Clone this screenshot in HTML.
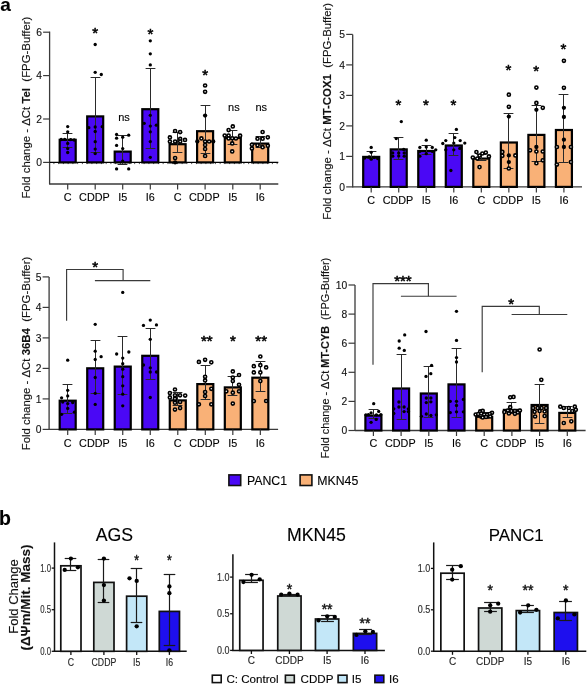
<!DOCTYPE html>
<html><head><meta charset="utf-8"><style>
html,body{margin:0;padding:0;background:#fff;width:587px;height:685px;overflow:hidden}
svg{display:block;font-family:"Liberation Sans", sans-serif;will-change:transform}
text{paint-order:stroke;stroke:#000;stroke-width:0.22px;stroke-opacity:0.55}
</style></head><body>
<svg width="587" height="685" viewBox="0 0 587 685">
<rect width="587" height="685" fill="#fff"/>
<line x1="49.60" y1="31.60" x2="49.60" y2="184.60" stroke="#3a3a3a" stroke-width="1.3"/>
<line x1="43.10" y1="32.20" x2="49.60" y2="32.20" stroke="#3a3a3a" stroke-width="1.2"/>
<text x="41.90" y="35.90" font-size="10.3" text-anchor="end" font-weight="normal" fill="#111" >6</text>
<line x1="43.10" y1="75.60" x2="49.60" y2="75.60" stroke="#3a3a3a" stroke-width="1.2"/>
<text x="41.90" y="79.30" font-size="10.3" text-anchor="end" font-weight="normal" fill="#111" >4</text>
<line x1="43.10" y1="119.00" x2="49.60" y2="119.00" stroke="#3a3a3a" stroke-width="1.2"/>
<text x="41.90" y="122.70" font-size="10.3" text-anchor="end" font-weight="normal" fill="#111" >2</text>
<line x1="43.10" y1="162.40" x2="49.60" y2="162.40" stroke="#3a3a3a" stroke-width="1.2"/>
<text x="41.90" y="166.10" font-size="10.3" text-anchor="end" font-weight="normal" fill="#111" >0</text>
<line x1="49.60" y1="184.00" x2="278.30" y2="184.00" stroke="#3a3a3a" stroke-width="1.3"/>
<line x1="49.60" y1="162.40" x2="278.30" y2="162.40" stroke="#000" stroke-width="1.3"/>
<line x1="53.90" y1="162.80" x2="53.90" y2="164.10" stroke="#222" stroke-width="0.8"/>
<line x1="58.65" y1="162.80" x2="58.65" y2="164.10" stroke="#222" stroke-width="0.8"/>
<line x1="63.40" y1="162.80" x2="63.40" y2="164.10" stroke="#222" stroke-width="0.8"/>
<line x1="68.15" y1="162.80" x2="68.15" y2="164.10" stroke="#222" stroke-width="0.8"/>
<line x1="72.90" y1="162.80" x2="72.90" y2="164.10" stroke="#222" stroke-width="0.8"/>
<line x1="77.65" y1="162.80" x2="77.65" y2="164.10" stroke="#222" stroke-width="0.8"/>
<line x1="82.40" y1="162.80" x2="82.40" y2="164.10" stroke="#222" stroke-width="0.8"/>
<line x1="87.15" y1="162.80" x2="87.15" y2="164.10" stroke="#222" stroke-width="0.8"/>
<line x1="91.90" y1="162.80" x2="91.90" y2="164.10" stroke="#222" stroke-width="0.8"/>
<line x1="96.65" y1="162.80" x2="96.65" y2="164.10" stroke="#222" stroke-width="0.8"/>
<line x1="101.40" y1="162.80" x2="101.40" y2="164.10" stroke="#222" stroke-width="0.8"/>
<line x1="106.15" y1="162.80" x2="106.15" y2="164.10" stroke="#222" stroke-width="0.8"/>
<line x1="110.90" y1="162.80" x2="110.90" y2="164.10" stroke="#222" stroke-width="0.8"/>
<line x1="115.65" y1="162.80" x2="115.65" y2="164.10" stroke="#222" stroke-width="0.8"/>
<line x1="120.40" y1="162.80" x2="120.40" y2="164.10" stroke="#222" stroke-width="0.8"/>
<line x1="125.15" y1="162.80" x2="125.15" y2="164.10" stroke="#222" stroke-width="0.8"/>
<line x1="129.90" y1="162.80" x2="129.90" y2="164.10" stroke="#222" stroke-width="0.8"/>
<line x1="134.65" y1="162.80" x2="134.65" y2="164.10" stroke="#222" stroke-width="0.8"/>
<line x1="139.40" y1="162.80" x2="139.40" y2="164.10" stroke="#222" stroke-width="0.8"/>
<line x1="144.15" y1="162.80" x2="144.15" y2="164.10" stroke="#222" stroke-width="0.8"/>
<line x1="148.90" y1="162.80" x2="148.90" y2="164.10" stroke="#222" stroke-width="0.8"/>
<line x1="153.65" y1="162.80" x2="153.65" y2="164.10" stroke="#222" stroke-width="0.8"/>
<line x1="158.40" y1="162.80" x2="158.40" y2="164.10" stroke="#222" stroke-width="0.8"/>
<line x1="163.15" y1="162.80" x2="163.15" y2="164.10" stroke="#222" stroke-width="0.8"/>
<line x1="167.90" y1="162.80" x2="167.90" y2="164.10" stroke="#222" stroke-width="0.8"/>
<line x1="172.65" y1="162.80" x2="172.65" y2="164.10" stroke="#222" stroke-width="0.8"/>
<line x1="177.40" y1="162.80" x2="177.40" y2="164.10" stroke="#222" stroke-width="0.8"/>
<line x1="182.15" y1="162.80" x2="182.15" y2="164.10" stroke="#222" stroke-width="0.8"/>
<line x1="186.90" y1="162.80" x2="186.90" y2="164.10" stroke="#222" stroke-width="0.8"/>
<line x1="191.65" y1="162.80" x2="191.65" y2="164.10" stroke="#222" stroke-width="0.8"/>
<line x1="196.40" y1="162.80" x2="196.40" y2="164.10" stroke="#222" stroke-width="0.8"/>
<line x1="201.15" y1="162.80" x2="201.15" y2="164.10" stroke="#222" stroke-width="0.8"/>
<line x1="205.90" y1="162.80" x2="205.90" y2="164.10" stroke="#222" stroke-width="0.8"/>
<line x1="210.65" y1="162.80" x2="210.65" y2="164.10" stroke="#222" stroke-width="0.8"/>
<line x1="215.40" y1="162.80" x2="215.40" y2="164.10" stroke="#222" stroke-width="0.8"/>
<line x1="220.15" y1="162.80" x2="220.15" y2="164.10" stroke="#222" stroke-width="0.8"/>
<line x1="224.90" y1="162.80" x2="224.90" y2="164.10" stroke="#222" stroke-width="0.8"/>
<line x1="229.65" y1="162.80" x2="229.65" y2="164.10" stroke="#222" stroke-width="0.8"/>
<line x1="234.40" y1="162.80" x2="234.40" y2="164.10" stroke="#222" stroke-width="0.8"/>
<line x1="239.15" y1="162.80" x2="239.15" y2="164.10" stroke="#222" stroke-width="0.8"/>
<line x1="243.90" y1="162.80" x2="243.90" y2="164.10" stroke="#222" stroke-width="0.8"/>
<line x1="248.65" y1="162.80" x2="248.65" y2="164.10" stroke="#222" stroke-width="0.8"/>
<line x1="253.40" y1="162.80" x2="253.40" y2="164.10" stroke="#222" stroke-width="0.8"/>
<line x1="258.15" y1="162.80" x2="258.15" y2="164.10" stroke="#222" stroke-width="0.8"/>
<line x1="262.90" y1="162.80" x2="262.90" y2="164.10" stroke="#222" stroke-width="0.8"/>
<line x1="267.65" y1="162.80" x2="267.65" y2="164.10" stroke="#222" stroke-width="0.8"/>
<line x1="272.40" y1="162.80" x2="272.40" y2="164.10" stroke="#222" stroke-width="0.8"/>
<line x1="277.15" y1="162.80" x2="277.15" y2="164.10" stroke="#222" stroke-width="0.8"/>
<rect x="59.70" y="139.80" width="16.00" height="22.60" fill="#4A08F5" stroke="#000" stroke-width="2.2"/>
<line x1="67.50" y1="133.50" x2="67.50" y2="147.50" stroke="#2a2a2a" stroke-width="1.0"/>
<line x1="62.60" y1="133.50" x2="72.40" y2="133.50" stroke="#2a2a2a" stroke-width="1.0"/>
<line x1="62.60" y1="147.50" x2="72.40" y2="147.50" stroke="#2a2a2a" stroke-width="1.0"/>
<circle cx="67.70" cy="126.60" r="1.65" fill="#000"/>
<circle cx="67.70" cy="131.80" r="1.65" fill="#000"/>
<circle cx="61.20" cy="139.50" r="1.65" fill="#000"/>
<circle cx="64.70" cy="139.30" r="1.65" fill="#000"/>
<circle cx="70.70" cy="139.60" r="1.65" fill="#000"/>
<circle cx="74.20" cy="140.00" r="1.65" fill="#000"/>
<circle cx="67.70" cy="143.40" r="1.65" fill="#000"/>
<circle cx="67.70" cy="148.60" r="1.65" fill="#000"/>
<circle cx="67.70" cy="152.50" r="1.65" fill="#000"/>
<line x1="67.70" y1="184.00" x2="67.70" y2="189.50" stroke="#3a3a3a" stroke-width="1.2"/>
<text x="67.70" y="201.40" font-size="10.8" text-anchor="middle" font-weight="normal" fill="#000" >C</text>
<rect x="87.20" y="116.40" width="16.00" height="46.00" fill="#4A08F5" stroke="#000" stroke-width="2.2"/>
<line x1="95.50" y1="77.50" x2="95.50" y2="152.50" stroke="#2a2a2a" stroke-width="1.0"/>
<line x1="90.60" y1="77.50" x2="100.40" y2="77.50" stroke="#2a2a2a" stroke-width="1.0"/>
<line x1="90.60" y1="152.50" x2="100.40" y2="152.50" stroke="#2a2a2a" stroke-width="1.0"/>
<circle cx="95.20" cy="44.50" r="1.65" fill="#000"/>
<circle cx="95.20" cy="72.30" r="1.65" fill="#000"/>
<circle cx="101.30" cy="74.50" r="1.65" fill="#000"/>
<circle cx="88.80" cy="127.70" r="1.65" fill="#000"/>
<circle cx="95.20" cy="127.00" r="1.65" fill="#000"/>
<circle cx="102.20" cy="126.70" r="1.65" fill="#000"/>
<circle cx="95.20" cy="131.50" r="1.65" fill="#000"/>
<circle cx="95.20" cy="141.70" r="1.65" fill="#000"/>
<circle cx="95.20" cy="149.10" r="1.65" fill="#000"/>
<circle cx="95.20" cy="153.60" r="1.65" fill="#000"/>
<line x1="95.20" y1="184.00" x2="95.20" y2="189.50" stroke="#3a3a3a" stroke-width="1.2"/>
<text x="94.40" y="201.40" font-size="10.8" text-anchor="middle" font-weight="normal" fill="#000" >CDDP</text>
<rect x="114.70" y="151.60" width="16.00" height="10.80" fill="#4A08F5" stroke="#000" stroke-width="2.2"/>
<line x1="122.50" y1="135.50" x2="122.50" y2="164.50" stroke="#2a2a2a" stroke-width="1.0"/>
<line x1="117.60" y1="135.50" x2="127.40" y2="135.50" stroke="#2a2a2a" stroke-width="1.0"/>
<line x1="117.60" y1="164.50" x2="127.40" y2="164.50" stroke="#2a2a2a" stroke-width="1.0"/>
<circle cx="116.60" cy="134.50" r="1.65" fill="#000"/>
<circle cx="116.60" cy="138.20" r="1.65" fill="#000"/>
<circle cx="128.70" cy="135.20" r="1.65" fill="#000"/>
<circle cx="122.70" cy="137.20" r="1.65" fill="#000"/>
<circle cx="116.60" cy="145.40" r="1.65" fill="#000"/>
<circle cx="122.70" cy="148.60" r="1.65" fill="#000"/>
<circle cx="122.70" cy="161.10" r="1.65" fill="#000"/>
<circle cx="116.60" cy="168.90" r="1.65" fill="#000"/>
<circle cx="128.70" cy="168.90" r="1.65" fill="#000"/>
<line x1="122.70" y1="184.00" x2="122.70" y2="189.50" stroke="#3a3a3a" stroke-width="1.2"/>
<text x="122.70" y="201.40" font-size="10.8" text-anchor="middle" font-weight="normal" fill="#000" >I5</text>
<rect x="142.30" y="109.20" width="16.00" height="53.20" fill="#4A08F5" stroke="#000" stroke-width="2.2"/>
<line x1="150.50" y1="68.50" x2="150.50" y2="148.50" stroke="#2a2a2a" stroke-width="1.0"/>
<line x1="145.60" y1="68.50" x2="155.40" y2="68.50" stroke="#2a2a2a" stroke-width="1.0"/>
<line x1="145.60" y1="148.50" x2="155.40" y2="148.50" stroke="#2a2a2a" stroke-width="1.0"/>
<circle cx="150.30" cy="40.80" r="1.65" fill="#000"/>
<circle cx="150.30" cy="53.80" r="1.65" fill="#000"/>
<circle cx="150.30" cy="64.90" r="1.65" fill="#000"/>
<circle cx="150.30" cy="115.30" r="1.65" fill="#000"/>
<circle cx="144.20" cy="123.30" r="1.65" fill="#000"/>
<circle cx="150.30" cy="126.10" r="1.65" fill="#000"/>
<circle cx="156.30" cy="125.20" r="1.65" fill="#000"/>
<circle cx="150.30" cy="131.80" r="1.65" fill="#000"/>
<circle cx="150.30" cy="141.60" r="1.65" fill="#000"/>
<circle cx="150.30" cy="157.30" r="1.65" fill="#000"/>
<line x1="150.30" y1="184.00" x2="150.30" y2="189.50" stroke="#3a3a3a" stroke-width="1.2"/>
<text x="150.30" y="201.40" font-size="10.8" text-anchor="middle" font-weight="normal" fill="#000" >I6</text>
<rect x="169.60" y="144.20" width="16.00" height="18.20" fill="#F9B177" stroke="#000" stroke-width="2.2"/>
<line x1="177.50" y1="132.50" x2="177.50" y2="152.50" stroke="#2a2a2a" stroke-width="1.0"/>
<line x1="172.60" y1="132.50" x2="182.40" y2="132.50" stroke="#2a2a2a" stroke-width="1.0"/>
<line x1="172.60" y1="152.50" x2="182.40" y2="152.50" stroke="#2a2a2a" stroke-width="1.0"/>
<circle cx="175.10" cy="131.00" r="1.55" fill="#fff" stroke="#000" stroke-width="1.6"/>
<circle cx="180.10" cy="132.10" r="1.55" fill="#fff" stroke="#000" stroke-width="1.6"/>
<circle cx="169.90" cy="137.40" r="1.55" fill="#fff" stroke="#000" stroke-width="1.6"/>
<circle cx="169.90" cy="141.50" r="1.55" fill="#fff" stroke="#000" stroke-width="1.6"/>
<circle cx="175.10" cy="141.50" r="1.55" fill="#fff" stroke="#000" stroke-width="1.6"/>
<circle cx="180.20" cy="138.90" r="1.55" fill="#fff" stroke="#000" stroke-width="1.6"/>
<circle cx="180.20" cy="141.50" r="1.55" fill="#fff" stroke="#000" stroke-width="1.6"/>
<circle cx="185.00" cy="139.90" r="1.55" fill="#fff" stroke="#000" stroke-width="1.6"/>
<circle cx="175.10" cy="158.00" r="1.55" fill="#fff" stroke="#000" stroke-width="1.6"/>
<circle cx="175.10" cy="162.40" r="2.15" fill="#000"/>
<line x1="177.60" y1="184.00" x2="177.60" y2="189.50" stroke="#3a3a3a" stroke-width="1.2"/>
<text x="177.60" y="201.40" font-size="10.8" text-anchor="middle" font-weight="normal" fill="#000" >C</text>
<rect x="197.10" y="131.20" width="16.00" height="31.20" fill="#F9B177" stroke="#000" stroke-width="2.2"/>
<line x1="205.50" y1="105.50" x2="205.50" y2="153.50" stroke="#2a2a2a" stroke-width="1.0"/>
<line x1="200.60" y1="105.50" x2="210.40" y2="105.50" stroke="#2a2a2a" stroke-width="1.0"/>
<line x1="200.60" y1="153.50" x2="210.40" y2="153.50" stroke="#2a2a2a" stroke-width="1.0"/>
<circle cx="205.10" cy="85.50" r="1.55" fill="#fff" stroke="#000" stroke-width="1.6"/>
<circle cx="205.10" cy="91.80" r="1.55" fill="#fff" stroke="#000" stroke-width="1.6"/>
<circle cx="205.10" cy="115.60" r="2.15" fill="#000"/>
<circle cx="201.40" cy="138.40" r="1.55" fill="#fff" stroke="#000" stroke-width="1.6"/>
<circle cx="197.30" cy="141.50" r="2.15" fill="#000"/>
<circle cx="205.10" cy="141.50" r="1.55" fill="#fff" stroke="#000" stroke-width="1.6"/>
<circle cx="209.10" cy="141.50" r="1.55" fill="#fff" stroke="#000" stroke-width="1.6"/>
<circle cx="213.20" cy="141.50" r="2.15" fill="#000"/>
<circle cx="205.10" cy="145.00" r="1.55" fill="#fff" stroke="#000" stroke-width="1.6"/>
<circle cx="205.10" cy="149.00" r="1.55" fill="#fff" stroke="#000" stroke-width="1.6"/>
<circle cx="205.10" cy="156.00" r="1.55" fill="#fff" stroke="#000" stroke-width="1.6"/>
<line x1="205.10" y1="184.00" x2="205.10" y2="189.50" stroke="#3a3a3a" stroke-width="1.2"/>
<text x="204.30" y="201.40" font-size="10.8" text-anchor="middle" font-weight="normal" fill="#000" >CDDP</text>
<rect x="224.80" y="138.00" width="16.00" height="24.40" fill="#F9B177" stroke="#000" stroke-width="2.2"/>
<line x1="232.50" y1="130.50" x2="232.50" y2="144.50" stroke="#2a2a2a" stroke-width="1.0"/>
<line x1="227.60" y1="130.50" x2="237.40" y2="130.50" stroke="#2a2a2a" stroke-width="1.0"/>
<line x1="227.60" y1="144.50" x2="237.40" y2="144.50" stroke="#2a2a2a" stroke-width="1.0"/>
<circle cx="232.80" cy="126.40" r="1.55" fill="#fff" stroke="#000" stroke-width="1.6"/>
<circle cx="228.60" cy="130.10" r="1.55" fill="#fff" stroke="#000" stroke-width="1.6"/>
<circle cx="224.70" cy="135.50" r="1.55" fill="#fff" stroke="#000" stroke-width="1.6"/>
<circle cx="228.60" cy="135.50" r="1.55" fill="#fff" stroke="#000" stroke-width="1.6"/>
<circle cx="240.10" cy="135.70" r="1.55" fill="#fff" stroke="#000" stroke-width="1.6"/>
<circle cx="228.60" cy="138.50" r="1.55" fill="#fff" stroke="#000" stroke-width="1.6"/>
<circle cx="232.20" cy="138.30" r="1.55" fill="#fff" stroke="#000" stroke-width="1.6"/>
<circle cx="235.90" cy="138.50" r="1.55" fill="#fff" stroke="#000" stroke-width="1.6"/>
<circle cx="232.20" cy="143.40" r="1.55" fill="#fff" stroke="#000" stroke-width="1.6"/>
<circle cx="232.20" cy="151.40" r="1.55" fill="#fff" stroke="#000" stroke-width="1.6"/>
<line x1="232.80" y1="184.00" x2="232.80" y2="189.50" stroke="#3a3a3a" stroke-width="1.2"/>
<text x="232.80" y="201.40" font-size="10.8" text-anchor="middle" font-weight="normal" fill="#000" >I5</text>
<rect x="252.20" y="143.60" width="16.00" height="18.80" fill="#F9B177" stroke="#000" stroke-width="2.2"/>
<line x1="260.50" y1="136.50" x2="260.50" y2="147.50" stroke="#2a2a2a" stroke-width="1.0"/>
<line x1="255.60" y1="136.50" x2="265.40" y2="136.50" stroke="#2a2a2a" stroke-width="1.0"/>
<line x1="255.60" y1="147.50" x2="265.40" y2="147.50" stroke="#2a2a2a" stroke-width="1.0"/>
<circle cx="262.60" cy="132.00" r="1.55" fill="#fff" stroke="#000" stroke-width="1.6"/>
<circle cx="257.50" cy="138.70" r="1.55" fill="#fff" stroke="#000" stroke-width="1.6"/>
<circle cx="262.60" cy="138.70" r="1.55" fill="#fff" stroke="#000" stroke-width="1.6"/>
<circle cx="267.80" cy="137.30" r="1.55" fill="#fff" stroke="#000" stroke-width="1.6"/>
<circle cx="251.90" cy="144.80" r="1.55" fill="#fff" stroke="#000" stroke-width="1.6"/>
<circle cx="251.90" cy="148.60" r="1.55" fill="#fff" stroke="#000" stroke-width="1.6"/>
<circle cx="257.50" cy="145.30" r="1.55" fill="#fff" stroke="#000" stroke-width="1.6"/>
<circle cx="262.60" cy="147.20" r="1.55" fill="#fff" stroke="#000" stroke-width="1.6"/>
<circle cx="267.80" cy="145.80" r="1.55" fill="#fff" stroke="#000" stroke-width="1.6"/>
<line x1="260.20" y1="184.00" x2="260.20" y2="189.50" stroke="#3a3a3a" stroke-width="1.2"/>
<text x="260.20" y="201.40" font-size="10.8" text-anchor="middle" font-weight="normal" fill="#000" >I6</text>
<text x="95.10" y="38.12" font-size="15" text-anchor="middle" style="stroke:#000;stroke-width:0.55px;stroke-opacity:1">*</text>
<text x="150.30" y="38.83" font-size="15" text-anchor="middle" style="stroke:#000;stroke-width:0.55px;stroke-opacity:1">*</text>
<text x="205.10" y="80.42" font-size="15" text-anchor="middle" style="stroke:#000;stroke-width:0.55px;stroke-opacity:1">*</text>
<text x="124.00" y="120.90" font-size="11" text-anchor="middle" font-weight="normal" fill="#000" >ns</text>
<text x="233.90" y="110.80" font-size="11" text-anchor="middle" font-weight="normal" fill="#000" >ns</text>
<text x="261.20" y="110.80" font-size="11" text-anchor="middle" font-weight="normal" fill="#000" >ns</text>
<text transform="translate(29.8,198.6) rotate(-90)" font-size="11.4" fill="#111" style="white-space:pre">Fold change - ΔCt <tspan font-weight="bold">Tel</tspan>  (FPG-Buffer)</text>
<text x="0.20" y="11.00" font-size="19" text-anchor="start" font-weight="bold" fill="#000" >a</text>
<line x1="352.70" y1="34.40" x2="352.70" y2="187.50" stroke="#3a3a3a" stroke-width="1.3"/>
<line x1="346.20" y1="34.40" x2="352.70" y2="34.40" stroke="#3a3a3a" stroke-width="1.2"/>
<text x="345.00" y="38.10" font-size="10.3" text-anchor="end" font-weight="normal" fill="#111" >5</text>
<line x1="346.20" y1="64.90" x2="352.70" y2="64.90" stroke="#3a3a3a" stroke-width="1.2"/>
<text x="345.00" y="68.60" font-size="10.3" text-anchor="end" font-weight="normal" fill="#111" >4</text>
<line x1="346.20" y1="95.40" x2="352.70" y2="95.40" stroke="#3a3a3a" stroke-width="1.2"/>
<text x="345.00" y="99.10" font-size="10.3" text-anchor="end" font-weight="normal" fill="#111" >3</text>
<line x1="346.20" y1="125.90" x2="352.70" y2="125.90" stroke="#3a3a3a" stroke-width="1.2"/>
<text x="345.00" y="129.60" font-size="10.3" text-anchor="end" font-weight="normal" fill="#111" >2</text>
<line x1="346.20" y1="156.40" x2="352.70" y2="156.40" stroke="#3a3a3a" stroke-width="1.2"/>
<text x="345.00" y="160.10" font-size="10.3" text-anchor="end" font-weight="normal" fill="#111" >1</text>
<line x1="346.20" y1="186.90" x2="352.70" y2="186.90" stroke="#3a3a3a" stroke-width="1.2"/>
<text x="345.00" y="190.60" font-size="10.3" text-anchor="end" font-weight="normal" fill="#111" >0</text>
<line x1="352.70" y1="186.90" x2="582.00" y2="186.90" stroke="#3a3a3a" stroke-width="1.3"/>
<rect x="363.20" y="156.90" width="16.00" height="30.00" fill="#4A08F5" stroke="#000" stroke-width="2.2"/>
<line x1="371.50" y1="151.50" x2="371.50" y2="158.50" stroke="#2a2a2a" stroke-width="1.0"/>
<line x1="366.60" y1="151.50" x2="376.40" y2="151.50" stroke="#2a2a2a" stroke-width="1.0"/>
<line x1="366.60" y1="158.50" x2="376.40" y2="158.50" stroke="#2a2a2a" stroke-width="1.0"/>
<circle cx="371.20" cy="147.40" r="1.65" fill="#000"/>
<circle cx="371.20" cy="152.30" r="1.65" fill="#000"/>
<circle cx="364.70" cy="158.00" r="1.65" fill="#000"/>
<circle cx="369.20" cy="157.00" r="1.65" fill="#000"/>
<circle cx="374.20" cy="157.50" r="1.65" fill="#000"/>
<circle cx="377.70" cy="158.50" r="1.65" fill="#000"/>
<circle cx="371.20" cy="159.20" r="1.65" fill="#000"/>
<line x1="371.20" y1="186.90" x2="371.20" y2="192.40" stroke="#3a3a3a" stroke-width="1.2"/>
<text x="371.20" y="203.90" font-size="10.8" text-anchor="middle" font-weight="normal" fill="#000" >C</text>
<rect x="390.73" y="149.40" width="16.00" height="37.50" fill="#4A08F5" stroke="#000" stroke-width="2.2"/>
<line x1="398.50" y1="137.50" x2="398.50" y2="159.50" stroke="#2a2a2a" stroke-width="1.0"/>
<line x1="393.60" y1="137.50" x2="403.40" y2="137.50" stroke="#2a2a2a" stroke-width="1.0"/>
<line x1="393.60" y1="159.50" x2="403.40" y2="159.50" stroke="#2a2a2a" stroke-width="1.0"/>
<circle cx="401.33" cy="121.60" r="1.65" fill="#000"/>
<circle cx="396.23" cy="138.60" r="1.65" fill="#000"/>
<circle cx="403.73" cy="149.40" r="1.65" fill="#000"/>
<circle cx="392.73" cy="152.90" r="1.65" fill="#000"/>
<circle cx="398.73" cy="152.90" r="1.65" fill="#000"/>
<circle cx="404.23" cy="152.90" r="1.65" fill="#000"/>
<circle cx="398.73" cy="155.90" r="1.65" fill="#000"/>
<circle cx="404.23" cy="156.20" r="1.65" fill="#000"/>
<circle cx="392.73" cy="156.20" r="1.65" fill="#000"/>
<line x1="398.73" y1="186.90" x2="398.73" y2="192.40" stroke="#3a3a3a" stroke-width="1.2"/>
<text x="397.93" y="203.90" font-size="10.8" text-anchor="middle" font-weight="normal" fill="#000" >CDDP</text>
<rect x="418.26" y="151.00" width="16.00" height="35.90" fill="#4A08F5" stroke="#000" stroke-width="2.2"/>
<line x1="426.50" y1="145.50" x2="426.50" y2="154.50" stroke="#2a2a2a" stroke-width="1.0"/>
<line x1="421.60" y1="145.50" x2="431.40" y2="145.50" stroke="#2a2a2a" stroke-width="1.0"/>
<line x1="421.60" y1="154.50" x2="431.40" y2="154.50" stroke="#2a2a2a" stroke-width="1.0"/>
<circle cx="426.26" cy="140.20" r="1.65" fill="#000"/>
<circle cx="419.86" cy="147.40" r="1.65" fill="#000"/>
<circle cx="426.26" cy="147.00" r="1.65" fill="#000"/>
<circle cx="432.26" cy="147.40" r="1.65" fill="#000"/>
<circle cx="435.76" cy="149.80" r="1.65" fill="#000"/>
<circle cx="419.86" cy="151.30" r="1.65" fill="#000"/>
<circle cx="432.26" cy="151.30" r="1.65" fill="#000"/>
<circle cx="426.26" cy="153.70" r="1.65" fill="#000"/>
<circle cx="419.86" cy="156.20" r="1.65" fill="#000"/>
<line x1="426.26" y1="186.90" x2="426.26" y2="192.40" stroke="#3a3a3a" stroke-width="1.2"/>
<text x="426.26" y="203.90" font-size="10.8" text-anchor="middle" font-weight="normal" fill="#000" >I5</text>
<rect x="445.79" y="145.50" width="16.00" height="41.40" fill="#4A08F5" stroke="#000" stroke-width="2.2"/>
<line x1="453.50" y1="133.50" x2="453.50" y2="155.50" stroke="#2a2a2a" stroke-width="1.0"/>
<line x1="448.60" y1="133.50" x2="458.40" y2="133.50" stroke="#2a2a2a" stroke-width="1.0"/>
<line x1="448.60" y1="155.50" x2="458.40" y2="155.50" stroke="#2a2a2a" stroke-width="1.0"/>
<circle cx="456.39" cy="129.40" r="1.65" fill="#000"/>
<circle cx="454.79" cy="137.60" r="1.65" fill="#000"/>
<circle cx="445.79" cy="140.60" r="1.65" fill="#000"/>
<circle cx="460.19" cy="140.60" r="1.65" fill="#000"/>
<circle cx="453.79" cy="143.10" r="1.65" fill="#000"/>
<circle cx="442.79" cy="143.50" r="1.65" fill="#000"/>
<circle cx="464.79" cy="143.10" r="1.65" fill="#000"/>
<circle cx="445.79" cy="149.80" r="1.65" fill="#000"/>
<circle cx="459.79" cy="148.40" r="1.65" fill="#000"/>
<circle cx="453.79" cy="149.80" r="1.65" fill="#000"/>
<circle cx="450.89" cy="170.50" r="1.65" fill="#000"/>
<line x1="453.79" y1="186.90" x2="453.79" y2="192.40" stroke="#3a3a3a" stroke-width="1.2"/>
<text x="453.79" y="203.90" font-size="10.8" text-anchor="middle" font-weight="normal" fill="#000" >I6</text>
<rect x="473.32" y="158.60" width="16.00" height="28.30" fill="#F9B177" stroke="#000" stroke-width="2.2"/>
<line x1="481.50" y1="154.50" x2="481.50" y2="160.50" stroke="#2a2a2a" stroke-width="1.0"/>
<line x1="476.60" y1="154.50" x2="486.40" y2="154.50" stroke="#2a2a2a" stroke-width="1.0"/>
<line x1="476.60" y1="160.50" x2="486.40" y2="160.50" stroke="#2a2a2a" stroke-width="1.0"/>
<circle cx="476.42" cy="152.00" r="1.55" fill="#fff" stroke="#000" stroke-width="1.6"/>
<circle cx="482.32" cy="153.50" r="1.55" fill="#fff" stroke="#000" stroke-width="1.6"/>
<circle cx="485.82" cy="152.50" r="1.55" fill="#fff" stroke="#000" stroke-width="1.6"/>
<circle cx="479.52" cy="155.60" r="1.55" fill="#fff" stroke="#000" stroke-width="1.6"/>
<circle cx="488.92" cy="156.40" r="1.55" fill="#fff" stroke="#000" stroke-width="1.6"/>
<circle cx="472.82" cy="157.60" r="1.55" fill="#fff" stroke="#000" stroke-width="1.6"/>
<circle cx="477.32" cy="158.50" r="1.55" fill="#fff" stroke="#000" stroke-width="1.6"/>
<circle cx="479.52" cy="167.10" r="1.55" fill="#fff" stroke="#000" stroke-width="1.6"/>
<line x1="481.32" y1="186.90" x2="481.32" y2="192.40" stroke="#3a3a3a" stroke-width="1.2"/>
<text x="481.32" y="203.90" font-size="10.8" text-anchor="middle" font-weight="normal" fill="#000" >C</text>
<rect x="500.85" y="142.50" width="16.00" height="44.40" fill="#F9B177" stroke="#000" stroke-width="2.2"/>
<line x1="508.50" y1="113.50" x2="508.50" y2="168.50" stroke="#2a2a2a" stroke-width="1.0"/>
<line x1="503.60" y1="113.50" x2="513.40" y2="113.50" stroke="#2a2a2a" stroke-width="1.0"/>
<line x1="503.60" y1="168.50" x2="513.40" y2="168.50" stroke="#2a2a2a" stroke-width="1.0"/>
<circle cx="508.85" cy="94.70" r="1.55" fill="#fff" stroke="#000" stroke-width="1.6"/>
<circle cx="508.85" cy="106.80" r="1.55" fill="#fff" stroke="#000" stroke-width="1.6"/>
<circle cx="508.85" cy="116.60" r="2.15" fill="#000"/>
<circle cx="502.35" cy="151.90" r="1.55" fill="#fff" stroke="#000" stroke-width="1.6"/>
<circle cx="502.35" cy="155.80" r="1.55" fill="#fff" stroke="#000" stroke-width="1.6"/>
<circle cx="508.85" cy="155.40" r="2.15" fill="#000"/>
<circle cx="515.35" cy="155.40" r="1.55" fill="#fff" stroke="#000" stroke-width="1.6"/>
<circle cx="508.85" cy="162.10" r="2.15" fill="#000"/>
<circle cx="508.85" cy="168.50" r="1.55" fill="#fff" stroke="#000" stroke-width="1.6"/>
<line x1="508.85" y1="186.90" x2="508.85" y2="192.40" stroke="#3a3a3a" stroke-width="1.2"/>
<text x="508.05" y="203.90" font-size="10.8" text-anchor="middle" font-weight="normal" fill="#000" >CDDP</text>
<rect x="528.38" y="134.90" width="16.00" height="52.00" fill="#F9B177" stroke="#000" stroke-width="2.2"/>
<line x1="536.50" y1="105.50" x2="536.50" y2="161.50" stroke="#2a2a2a" stroke-width="1.0"/>
<line x1="531.60" y1="105.50" x2="541.40" y2="105.50" stroke="#2a2a2a" stroke-width="1.0"/>
<line x1="531.60" y1="161.50" x2="541.40" y2="161.50" stroke="#2a2a2a" stroke-width="1.0"/>
<circle cx="536.38" cy="87.60" r="1.55" fill="#fff" stroke="#000" stroke-width="1.6"/>
<circle cx="536.38" cy="102.90" r="1.55" fill="#fff" stroke="#000" stroke-width="1.6"/>
<circle cx="542.78" cy="107.80" r="1.55" fill="#fff" stroke="#000" stroke-width="1.6"/>
<circle cx="536.38" cy="109.80" r="2.15" fill="#000"/>
<circle cx="530.08" cy="150.30" r="1.55" fill="#fff" stroke="#000" stroke-width="1.6"/>
<circle cx="536.38" cy="147.00" r="2.15" fill="#000"/>
<circle cx="536.38" cy="151.50" r="1.55" fill="#fff" stroke="#000" stroke-width="1.6"/>
<circle cx="542.78" cy="151.50" r="1.55" fill="#fff" stroke="#000" stroke-width="1.6"/>
<circle cx="542.78" cy="160.30" r="1.55" fill="#fff" stroke="#000" stroke-width="1.6"/>
<circle cx="536.38" cy="163.20" r="1.55" fill="#fff" stroke="#000" stroke-width="1.6"/>
<line x1="536.38" y1="186.90" x2="536.38" y2="192.40" stroke="#3a3a3a" stroke-width="1.2"/>
<text x="536.38" y="203.90" font-size="10.8" text-anchor="middle" font-weight="normal" fill="#000" >I5</text>
<rect x="555.91" y="130.00" width="16.00" height="56.90" fill="#F9B177" stroke="#000" stroke-width="2.2"/>
<line x1="563.50" y1="94.50" x2="563.50" y2="162.50" stroke="#2a2a2a" stroke-width="1.0"/>
<line x1="558.60" y1="94.50" x2="568.40" y2="94.50" stroke="#2a2a2a" stroke-width="1.0"/>
<line x1="558.60" y1="162.50" x2="568.40" y2="162.50" stroke="#2a2a2a" stroke-width="1.0"/>
<circle cx="563.91" cy="60.80" r="1.55" fill="#fff" stroke="#000" stroke-width="1.6"/>
<circle cx="563.91" cy="87.80" r="1.55" fill="#fff" stroke="#000" stroke-width="1.6"/>
<circle cx="563.91" cy="107.80" r="2.15" fill="#000"/>
<circle cx="563.91" cy="117.00" r="2.15" fill="#000"/>
<circle cx="563.91" cy="139.70" r="2.15" fill="#000"/>
<circle cx="556.91" cy="147.00" r="1.55" fill="#fff" stroke="#000" stroke-width="1.6"/>
<circle cx="563.91" cy="147.00" r="2.15" fill="#000"/>
<circle cx="570.91" cy="147.00" r="1.55" fill="#fff" stroke="#000" stroke-width="1.6"/>
<circle cx="556.91" cy="164.60" r="1.55" fill="#fff" stroke="#000" stroke-width="1.6"/>
<circle cx="570.91" cy="162.10" r="1.55" fill="#fff" stroke="#000" stroke-width="1.6"/>
<line x1="563.91" y1="186.90" x2="563.91" y2="192.40" stroke="#3a3a3a" stroke-width="1.2"/>
<text x="563.91" y="203.90" font-size="10.8" text-anchor="middle" font-weight="normal" fill="#000" >I6</text>
<text x="398.50" y="109.72" font-size="15" text-anchor="middle" style="stroke:#000;stroke-width:0.55px;stroke-opacity:1">*</text>
<text x="426.00" y="109.72" font-size="15" text-anchor="middle" style="stroke:#000;stroke-width:0.55px;stroke-opacity:1">*</text>
<text x="453.40" y="109.83" font-size="15" text-anchor="middle" style="stroke:#000;stroke-width:0.55px;stroke-opacity:1">*</text>
<text x="508.50" y="75.33" font-size="15" text-anchor="middle" style="stroke:#000;stroke-width:0.55px;stroke-opacity:1">*</text>
<text x="536.10" y="76.12" font-size="15" text-anchor="middle" style="stroke:#000;stroke-width:0.55px;stroke-opacity:1">*</text>
<text x="563.40" y="54.02" font-size="15" text-anchor="middle" style="stroke:#000;stroke-width:0.55px;stroke-opacity:1">*</text>
<text transform="translate(331.0,219.8) rotate(-90)" font-size="11.4" fill="#111" style="white-space:pre">Fold change - ΔCt <tspan font-weight="bold">MT-COX1</tspan>  (FPG-Buffer)</text>
<line x1="49.10" y1="276.90" x2="49.10" y2="430.00" stroke="#3a3a3a" stroke-width="1.3"/>
<line x1="42.60" y1="276.90" x2="49.10" y2="276.90" stroke="#3a3a3a" stroke-width="1.2"/>
<text x="41.40" y="280.60" font-size="10.3" text-anchor="end" font-weight="normal" fill="#111" >5</text>
<line x1="42.60" y1="307.40" x2="49.10" y2="307.40" stroke="#3a3a3a" stroke-width="1.2"/>
<text x="41.40" y="311.10" font-size="10.3" text-anchor="end" font-weight="normal" fill="#111" >4</text>
<line x1="42.60" y1="337.90" x2="49.10" y2="337.90" stroke="#3a3a3a" stroke-width="1.2"/>
<text x="41.40" y="341.60" font-size="10.3" text-anchor="end" font-weight="normal" fill="#111" >3</text>
<line x1="42.60" y1="368.40" x2="49.10" y2="368.40" stroke="#3a3a3a" stroke-width="1.2"/>
<text x="41.40" y="372.10" font-size="10.3" text-anchor="end" font-weight="normal" fill="#111" >2</text>
<line x1="42.60" y1="398.90" x2="49.10" y2="398.90" stroke="#3a3a3a" stroke-width="1.2"/>
<text x="41.40" y="402.60" font-size="10.3" text-anchor="end" font-weight="normal" fill="#111" >1</text>
<line x1="42.60" y1="429.40" x2="49.10" y2="429.40" stroke="#3a3a3a" stroke-width="1.2"/>
<text x="41.40" y="433.10" font-size="10.3" text-anchor="end" font-weight="normal" fill="#111" >0</text>
<line x1="49.10" y1="429.40" x2="278.10" y2="429.40" stroke="#3a3a3a" stroke-width="1.3"/>
<rect x="59.70" y="400.70" width="16.00" height="28.70" fill="#4A08F5" stroke="#000" stroke-width="2.2"/>
<line x1="67.50" y1="384.50" x2="67.50" y2="413.50" stroke="#2a2a2a" stroke-width="1.0"/>
<line x1="62.60" y1="384.50" x2="72.40" y2="384.50" stroke="#2a2a2a" stroke-width="1.0"/>
<line x1="62.60" y1="413.50" x2="72.40" y2="413.50" stroke="#2a2a2a" stroke-width="1.0"/>
<circle cx="67.70" cy="360.20" r="1.65" fill="#000"/>
<circle cx="67.70" cy="390.30" r="1.65" fill="#000"/>
<circle cx="67.70" cy="395.90" r="1.65" fill="#000"/>
<circle cx="61.60" cy="397.80" r="1.65" fill="#000"/>
<circle cx="67.70" cy="403.60" r="1.65" fill="#000"/>
<circle cx="67.70" cy="408.40" r="1.65" fill="#000"/>
<circle cx="61.60" cy="414.30" r="1.65" fill="#000"/>
<circle cx="74.40" cy="412.20" r="1.65" fill="#000"/>
<circle cx="62.70" cy="402.00" r="1.65" fill="#000"/>
<circle cx="72.70" cy="402.50" r="1.65" fill="#000"/>
<line x1="67.70" y1="429.40" x2="67.70" y2="434.90" stroke="#3a3a3a" stroke-width="1.2"/>
<text x="67.70" y="446.60" font-size="10.8" text-anchor="middle" font-weight="normal" fill="#000" >C</text>
<rect x="87.22" y="368.30" width="16.00" height="61.10" fill="#4A08F5" stroke="#000" stroke-width="2.2"/>
<line x1="95.50" y1="340.50" x2="95.50" y2="393.50" stroke="#2a2a2a" stroke-width="1.0"/>
<line x1="90.60" y1="340.50" x2="100.40" y2="340.50" stroke="#2a2a2a" stroke-width="1.0"/>
<line x1="90.60" y1="393.50" x2="100.40" y2="393.50" stroke="#2a2a2a" stroke-width="1.0"/>
<circle cx="95.22" cy="324.30" r="1.65" fill="#000"/>
<circle cx="95.22" cy="351.20" r="1.65" fill="#000"/>
<circle cx="101.12" cy="356.70" r="1.65" fill="#000"/>
<circle cx="95.22" cy="359.50" r="1.65" fill="#000"/>
<circle cx="95.22" cy="377.50" r="1.65" fill="#000"/>
<circle cx="95.22" cy="393.30" r="1.65" fill="#000"/>
<circle cx="95.22" cy="404.40" r="1.65" fill="#000"/>
<line x1="95.22" y1="429.40" x2="95.22" y2="434.90" stroke="#3a3a3a" stroke-width="1.2"/>
<text x="94.42" y="446.60" font-size="10.8" text-anchor="middle" font-weight="normal" fill="#000" >CDDP</text>
<rect x="114.74" y="366.60" width="16.00" height="62.80" fill="#4A08F5" stroke="#000" stroke-width="2.2"/>
<line x1="122.50" y1="336.50" x2="122.50" y2="394.50" stroke="#2a2a2a" stroke-width="1.0"/>
<line x1="117.60" y1="336.50" x2="127.40" y2="336.50" stroke="#2a2a2a" stroke-width="1.0"/>
<line x1="117.60" y1="394.50" x2="127.40" y2="394.50" stroke="#2a2a2a" stroke-width="1.0"/>
<circle cx="122.74" cy="292.40" r="1.65" fill="#000"/>
<circle cx="116.64" cy="354.00" r="1.65" fill="#000"/>
<circle cx="128.84" cy="352.00" r="1.65" fill="#000"/>
<circle cx="122.74" cy="358.10" r="1.65" fill="#000"/>
<circle cx="122.74" cy="363.70" r="1.65" fill="#000"/>
<circle cx="122.74" cy="369.20" r="1.65" fill="#000"/>
<circle cx="122.74" cy="376.70" r="1.65" fill="#000"/>
<circle cx="122.74" cy="385.80" r="1.65" fill="#000"/>
<circle cx="122.74" cy="394.20" r="1.65" fill="#000"/>
<circle cx="122.74" cy="405.80" r="1.65" fill="#000"/>
<line x1="122.74" y1="429.40" x2="122.74" y2="434.90" stroke="#3a3a3a" stroke-width="1.2"/>
<text x="122.74" y="446.60" font-size="10.8" text-anchor="middle" font-weight="normal" fill="#000" >I5</text>
<rect x="142.26" y="355.80" width="16.00" height="73.60" fill="#4A08F5" stroke="#000" stroke-width="2.2"/>
<line x1="150.50" y1="328.50" x2="150.50" y2="379.50" stroke="#2a2a2a" stroke-width="1.0"/>
<line x1="145.60" y1="328.50" x2="155.40" y2="328.50" stroke="#2a2a2a" stroke-width="1.0"/>
<line x1="145.60" y1="379.50" x2="155.40" y2="379.50" stroke="#2a2a2a" stroke-width="1.0"/>
<circle cx="150.26" cy="320.10" r="1.65" fill="#000"/>
<circle cx="143.46" cy="325.40" r="1.65" fill="#000"/>
<circle cx="156.46" cy="324.90" r="1.65" fill="#000"/>
<circle cx="150.26" cy="339.30" r="1.65" fill="#000"/>
<circle cx="143.46" cy="365.00" r="1.65" fill="#000"/>
<circle cx="150.26" cy="367.80" r="1.65" fill="#000"/>
<circle cx="150.26" cy="372.00" r="1.65" fill="#000"/>
<circle cx="156.46" cy="372.00" r="1.65" fill="#000"/>
<circle cx="150.26" cy="397.50" r="1.65" fill="#000"/>
<line x1="150.26" y1="429.40" x2="150.26" y2="434.90" stroke="#3a3a3a" stroke-width="1.2"/>
<text x="150.26" y="446.60" font-size="10.8" text-anchor="middle" font-weight="normal" fill="#000" >I6</text>
<rect x="169.78" y="400.40" width="16.00" height="29.00" fill="#F9B177" stroke="#000" stroke-width="2.2"/>
<line x1="177.50" y1="392.50" x2="177.50" y2="405.50" stroke="#2a2a2a" stroke-width="1.0"/>
<line x1="172.60" y1="392.50" x2="182.40" y2="392.50" stroke="#2a2a2a" stroke-width="1.0"/>
<line x1="172.60" y1="405.50" x2="182.40" y2="405.50" stroke="#2a2a2a" stroke-width="1.0"/>
<circle cx="174.98" cy="389.50" r="1.55" fill="#fff" stroke="#000" stroke-width="1.6"/>
<circle cx="169.88" cy="393.00" r="1.55" fill="#fff" stroke="#000" stroke-width="1.6"/>
<circle cx="174.98" cy="395.30" r="1.55" fill="#fff" stroke="#000" stroke-width="1.6"/>
<circle cx="180.08" cy="395.30" r="1.55" fill="#fff" stroke="#000" stroke-width="1.6"/>
<circle cx="185.18" cy="395.60" r="1.55" fill="#fff" stroke="#000" stroke-width="1.6"/>
<circle cx="169.88" cy="397.40" r="1.55" fill="#fff" stroke="#000" stroke-width="1.6"/>
<circle cx="174.98" cy="398.70" r="1.55" fill="#fff" stroke="#000" stroke-width="1.6"/>
<circle cx="174.98" cy="402.70" r="1.55" fill="#fff" stroke="#000" stroke-width="1.6"/>
<circle cx="180.08" cy="402.00" r="1.55" fill="#fff" stroke="#000" stroke-width="1.6"/>
<circle cx="180.08" cy="408.10" r="1.55" fill="#fff" stroke="#000" stroke-width="1.6"/>
<circle cx="174.98" cy="409.60" r="1.55" fill="#fff" stroke="#000" stroke-width="1.6"/>
<line x1="177.78" y1="429.40" x2="177.78" y2="434.90" stroke="#3a3a3a" stroke-width="1.2"/>
<text x="177.78" y="446.60" font-size="10.8" text-anchor="middle" font-weight="normal" fill="#000" >C</text>
<rect x="197.30" y="384.10" width="16.00" height="45.30" fill="#F9B177" stroke="#000" stroke-width="2.2"/>
<line x1="205.50" y1="365.50" x2="205.50" y2="399.50" stroke="#2a2a2a" stroke-width="1.0"/>
<line x1="200.60" y1="365.50" x2="210.40" y2="365.50" stroke="#2a2a2a" stroke-width="1.0"/>
<line x1="200.60" y1="399.50" x2="210.40" y2="399.50" stroke="#2a2a2a" stroke-width="1.0"/>
<circle cx="198.90" cy="361.90" r="1.55" fill="#fff" stroke="#000" stroke-width="1.6"/>
<circle cx="205.10" cy="359.80" r="1.55" fill="#fff" stroke="#000" stroke-width="1.6"/>
<circle cx="211.30" cy="362.30" r="1.55" fill="#fff" stroke="#000" stroke-width="1.6"/>
<circle cx="205.10" cy="376.80" r="1.55" fill="#fff" stroke="#000" stroke-width="1.6"/>
<circle cx="205.10" cy="380.40" r="1.55" fill="#fff" stroke="#000" stroke-width="1.6"/>
<circle cx="211.30" cy="388.80" r="1.55" fill="#fff" stroke="#000" stroke-width="1.6"/>
<circle cx="205.10" cy="392.00" r="1.55" fill="#fff" stroke="#000" stroke-width="1.6"/>
<circle cx="205.10" cy="396.00" r="1.55" fill="#fff" stroke="#000" stroke-width="1.6"/>
<circle cx="198.90" cy="404.30" r="1.55" fill="#fff" stroke="#000" stroke-width="1.6"/>
<circle cx="211.30" cy="404.30" r="1.55" fill="#fff" stroke="#000" stroke-width="1.6"/>
<line x1="205.30" y1="429.40" x2="205.30" y2="434.90" stroke="#3a3a3a" stroke-width="1.2"/>
<text x="204.50" y="446.60" font-size="10.8" text-anchor="middle" font-weight="normal" fill="#000" >CDDP</text>
<rect x="224.82" y="387.40" width="16.00" height="42.00" fill="#F9B177" stroke="#000" stroke-width="2.2"/>
<line x1="232.50" y1="376.50" x2="232.50" y2="395.50" stroke="#2a2a2a" stroke-width="1.0"/>
<line x1="227.60" y1="376.50" x2="237.40" y2="376.50" stroke="#2a2a2a" stroke-width="1.0"/>
<line x1="227.60" y1="395.50" x2="237.40" y2="395.50" stroke="#2a2a2a" stroke-width="1.0"/>
<circle cx="232.82" cy="371.40" r="1.55" fill="#fff" stroke="#000" stroke-width="1.6"/>
<circle cx="239.02" cy="375.00" r="1.55" fill="#fff" stroke="#000" stroke-width="1.6"/>
<circle cx="232.82" cy="377.50" r="1.55" fill="#fff" stroke="#000" stroke-width="1.6"/>
<circle cx="232.82" cy="381.10" r="1.55" fill="#fff" stroke="#000" stroke-width="1.6"/>
<circle cx="239.02" cy="384.80" r="1.55" fill="#fff" stroke="#000" stroke-width="1.6"/>
<circle cx="226.32" cy="391.30" r="1.55" fill="#fff" stroke="#000" stroke-width="1.6"/>
<circle cx="232.82" cy="392.70" r="1.55" fill="#fff" stroke="#000" stroke-width="1.6"/>
<circle cx="239.02" cy="391.30" r="1.55" fill="#fff" stroke="#000" stroke-width="1.6"/>
<circle cx="232.82" cy="403.60" r="1.55" fill="#fff" stroke="#000" stroke-width="1.6"/>
<line x1="232.82" y1="429.40" x2="232.82" y2="434.90" stroke="#3a3a3a" stroke-width="1.2"/>
<text x="232.82" y="446.60" font-size="10.8" text-anchor="middle" font-weight="normal" fill="#000" >I5</text>
<rect x="252.34" y="377.70" width="16.00" height="51.70" fill="#F9B177" stroke="#000" stroke-width="2.2"/>
<line x1="260.50" y1="361.50" x2="260.50" y2="391.50" stroke="#2a2a2a" stroke-width="1.0"/>
<line x1="255.60" y1="361.50" x2="265.40" y2="361.50" stroke="#2a2a2a" stroke-width="1.0"/>
<line x1="255.60" y1="391.50" x2="265.40" y2="391.50" stroke="#2a2a2a" stroke-width="1.0"/>
<circle cx="260.34" cy="356.50" r="1.55" fill="#fff" stroke="#000" stroke-width="1.6"/>
<circle cx="260.34" cy="365.20" r="1.55" fill="#fff" stroke="#000" stroke-width="1.6"/>
<circle cx="253.84" cy="366.20" r="1.55" fill="#fff" stroke="#000" stroke-width="1.6"/>
<circle cx="266.14" cy="367.40" r="1.55" fill="#fff" stroke="#000" stroke-width="1.6"/>
<circle cx="253.84" cy="372.40" r="1.55" fill="#fff" stroke="#000" stroke-width="1.6"/>
<circle cx="260.34" cy="372.40" r="1.55" fill="#fff" stroke="#000" stroke-width="1.6"/>
<circle cx="260.34" cy="381.10" r="1.55" fill="#fff" stroke="#000" stroke-width="1.6"/>
<circle cx="253.84" cy="401.00" r="1.55" fill="#fff" stroke="#000" stroke-width="1.6"/>
<circle cx="266.14" cy="401.00" r="1.55" fill="#fff" stroke="#000" stroke-width="1.6"/>
<line x1="260.34" y1="429.40" x2="260.34" y2="434.90" stroke="#3a3a3a" stroke-width="1.2"/>
<text x="260.34" y="446.60" font-size="10.8" text-anchor="middle" font-weight="normal" fill="#000" >I6</text>
<text x="206.80" y="346.03" font-size="15" text-anchor="middle" style="stroke:#000;stroke-width:0.55px;stroke-opacity:1">**</text>
<text x="232.80" y="346.03" font-size="15" text-anchor="middle" style="stroke:#000;stroke-width:0.55px;stroke-opacity:1">*</text>
<text x="261.20" y="346.03" font-size="15" text-anchor="middle" style="stroke:#000;stroke-width:0.55px;stroke-opacity:1">**</text>
<text x="95.20" y="272.03" font-size="15" text-anchor="middle" style="stroke:#000;stroke-width:0.55px;stroke-opacity:1">*</text>
<polyline points="66.6,320.7 66.6,269.5 123.1,269.5 123.1,280.6" fill="none" stroke="#3a3a3a" stroke-width="1.15"/>
<line x1="94.90" y1="280.60" x2="150.30" y2="280.60" stroke="#3a3a3a" stroke-width="1.15"/>
<text transform="translate(29.8,450.3) rotate(-90)" font-size="11.4" fill="#111" style="white-space:pre">Fold change - ΔCt <tspan font-weight="bold">36B4</tspan>  (FPG-Buffer)</text>
<line x1="355.00" y1="285.00" x2="355.00" y2="431.10" stroke="#3a3a3a" stroke-width="1.3"/>
<line x1="348.50" y1="285.00" x2="355.00" y2="285.00" stroke="#3a3a3a" stroke-width="1.2"/>
<text x="347.30" y="288.70" font-size="10.3" text-anchor="end" font-weight="normal" fill="#111" >10</text>
<line x1="348.50" y1="314.10" x2="355.00" y2="314.10" stroke="#3a3a3a" stroke-width="1.2"/>
<text x="347.30" y="317.80" font-size="10.3" text-anchor="end" font-weight="normal" fill="#111" >8</text>
<line x1="348.50" y1="343.20" x2="355.00" y2="343.20" stroke="#3a3a3a" stroke-width="1.2"/>
<text x="347.30" y="346.90" font-size="10.3" text-anchor="end" font-weight="normal" fill="#111" >6</text>
<line x1="348.50" y1="372.30" x2="355.00" y2="372.30" stroke="#3a3a3a" stroke-width="1.2"/>
<text x="347.30" y="376.00" font-size="10.3" text-anchor="end" font-weight="normal" fill="#111" >4</text>
<line x1="348.50" y1="401.40" x2="355.00" y2="401.40" stroke="#3a3a3a" stroke-width="1.2"/>
<text x="347.30" y="405.10" font-size="10.3" text-anchor="end" font-weight="normal" fill="#111" >2</text>
<line x1="348.50" y1="430.50" x2="355.00" y2="430.50" stroke="#3a3a3a" stroke-width="1.2"/>
<text x="347.30" y="434.20" font-size="10.3" text-anchor="end" font-weight="normal" fill="#111" >0</text>
<line x1="355.00" y1="430.50" x2="585.60" y2="430.50" stroke="#3a3a3a" stroke-width="1.3"/>
<rect x="365.40" y="415.60" width="16.00" height="14.90" fill="#4A08F5" stroke="#000" stroke-width="2.2"/>
<line x1="373.50" y1="409.50" x2="373.50" y2="418.50" stroke="#2a2a2a" stroke-width="1.0"/>
<line x1="368.60" y1="409.50" x2="378.40" y2="409.50" stroke="#2a2a2a" stroke-width="1.0"/>
<line x1="368.60" y1="418.50" x2="378.40" y2="418.50" stroke="#2a2a2a" stroke-width="1.0"/>
<circle cx="373.70" cy="403.70" r="1.65" fill="#000"/>
<circle cx="371.10" cy="412.90" r="1.65" fill="#000"/>
<circle cx="378.70" cy="411.40" r="1.65" fill="#000"/>
<circle cx="365.90" cy="414.80" r="1.65" fill="#000"/>
<circle cx="368.40" cy="414.60" r="1.65" fill="#000"/>
<circle cx="376.40" cy="414.80" r="1.65" fill="#000"/>
<circle cx="380.90" cy="414.60" r="1.65" fill="#000"/>
<circle cx="376.20" cy="419.40" r="1.65" fill="#000"/>
<circle cx="371.10" cy="422.30" r="1.65" fill="#000"/>
<line x1="373.40" y1="430.50" x2="373.40" y2="436.00" stroke="#3a3a3a" stroke-width="1.2"/>
<text x="373.40" y="446.80" font-size="10.8" text-anchor="middle" font-weight="normal" fill="#000" >C</text>
<rect x="393.10" y="388.50" width="16.00" height="42.00" fill="#4A08F5" stroke="#000" stroke-width="2.2"/>
<line x1="401.50" y1="354.50" x2="401.50" y2="419.50" stroke="#2a2a2a" stroke-width="1.0"/>
<line x1="396.60" y1="354.50" x2="406.40" y2="354.50" stroke="#2a2a2a" stroke-width="1.0"/>
<line x1="396.60" y1="419.50" x2="406.40" y2="419.50" stroke="#2a2a2a" stroke-width="1.0"/>
<circle cx="404.70" cy="334.90" r="1.65" fill="#000"/>
<circle cx="399.20" cy="341.00" r="1.65" fill="#000"/>
<circle cx="399.20" cy="348.20" r="1.65" fill="#000"/>
<circle cx="404.30" cy="350.40" r="1.65" fill="#000"/>
<circle cx="398.90" cy="402.00" r="1.65" fill="#000"/>
<circle cx="398.90" cy="407.00" r="1.65" fill="#000"/>
<circle cx="404.10" cy="407.00" r="1.65" fill="#000"/>
<circle cx="404.10" cy="411.60" r="1.65" fill="#000"/>
<circle cx="393.80" cy="408.80" r="1.65" fill="#000"/>
<circle cx="408.40" cy="408.80" r="1.65" fill="#000"/>
<circle cx="393.80" cy="413.40" r="1.65" fill="#000"/>
<circle cx="408.40" cy="411.60" r="1.65" fill="#000"/>
<line x1="401.10" y1="430.50" x2="401.10" y2="436.00" stroke="#3a3a3a" stroke-width="1.2"/>
<text x="400.30" y="446.80" font-size="10.8" text-anchor="middle" font-weight="normal" fill="#000" >CDDP</text>
<rect x="420.80" y="393.50" width="16.00" height="37.00" fill="#4A08F5" stroke="#000" stroke-width="2.2"/>
<line x1="428.50" y1="366.50" x2="428.50" y2="417.50" stroke="#2a2a2a" stroke-width="1.0"/>
<line x1="423.60" y1="366.50" x2="433.40" y2="366.50" stroke="#2a2a2a" stroke-width="1.0"/>
<line x1="423.60" y1="417.50" x2="433.40" y2="417.50" stroke="#2a2a2a" stroke-width="1.0"/>
<circle cx="426.00" cy="331.50" r="1.65" fill="#000"/>
<circle cx="431.60" cy="365.40" r="1.65" fill="#000"/>
<circle cx="430.80" cy="373.70" r="1.65" fill="#000"/>
<circle cx="426.00" cy="376.40" r="1.65" fill="#000"/>
<circle cx="426.30" cy="398.00" r="1.65" fill="#000"/>
<circle cx="430.90" cy="398.00" r="1.65" fill="#000"/>
<circle cx="426.30" cy="402.60" r="1.65" fill="#000"/>
<circle cx="430.90" cy="401.80" r="1.65" fill="#000"/>
<circle cx="426.30" cy="414.00" r="1.65" fill="#000"/>
<circle cx="430.90" cy="415.50" r="1.65" fill="#000"/>
<circle cx="421.40" cy="416.30" r="1.65" fill="#000"/>
<circle cx="436.30" cy="414.80" r="1.65" fill="#000"/>
<line x1="428.80" y1="430.50" x2="428.80" y2="436.00" stroke="#3a3a3a" stroke-width="1.2"/>
<text x="428.80" y="446.80" font-size="10.8" text-anchor="middle" font-weight="normal" fill="#000" >I5</text>
<rect x="448.50" y="384.40" width="16.00" height="46.10" fill="#4A08F5" stroke="#000" stroke-width="2.2"/>
<line x1="456.50" y1="348.50" x2="456.50" y2="417.50" stroke="#2a2a2a" stroke-width="1.0"/>
<line x1="451.60" y1="348.50" x2="461.40" y2="348.50" stroke="#2a2a2a" stroke-width="1.0"/>
<line x1="451.60" y1="417.50" x2="461.40" y2="417.50" stroke="#2a2a2a" stroke-width="1.0"/>
<circle cx="456.50" cy="311.30" r="1.65" fill="#000"/>
<circle cx="456.50" cy="340.40" r="1.65" fill="#000"/>
<circle cx="456.50" cy="357.60" r="1.65" fill="#000"/>
<circle cx="456.50" cy="362.00" r="1.65" fill="#000"/>
<circle cx="456.50" cy="401.30" r="1.65" fill="#000"/>
<circle cx="456.50" cy="405.50" r="1.65" fill="#000"/>
<circle cx="450.30" cy="401.30" r="1.65" fill="#000"/>
<circle cx="463.40" cy="399.40" r="1.65" fill="#000"/>
<circle cx="450.30" cy="412.60" r="1.65" fill="#000"/>
<circle cx="456.50" cy="411.80" r="1.65" fill="#000"/>
<circle cx="463.40" cy="411.80" r="1.65" fill="#000"/>
<line x1="456.50" y1="430.50" x2="456.50" y2="436.00" stroke="#3a3a3a" stroke-width="1.2"/>
<text x="456.50" y="446.80" font-size="10.8" text-anchor="middle" font-weight="normal" fill="#000" >I6</text>
<rect x="476.20" y="416.80" width="16.00" height="13.70" fill="#F9B177" stroke="#000" stroke-width="2.2"/>
<line x1="484.50" y1="412.50" x2="484.50" y2="418.50" stroke="#2a2a2a" stroke-width="1.0"/>
<line x1="479.60" y1="412.50" x2="489.40" y2="412.50" stroke="#2a2a2a" stroke-width="1.0"/>
<line x1="479.60" y1="418.50" x2="489.40" y2="418.50" stroke="#2a2a2a" stroke-width="1.0"/>
<circle cx="480.20" cy="411.40" r="1.55" fill="#fff" stroke="#000" stroke-width="1.6"/>
<circle cx="482.70" cy="410.90" r="1.55" fill="#fff" stroke="#000" stroke-width="1.6"/>
<circle cx="492.00" cy="412.80" r="1.55" fill="#fff" stroke="#000" stroke-width="1.6"/>
<circle cx="475.70" cy="414.50" r="1.55" fill="#fff" stroke="#000" stroke-width="1.6"/>
<circle cx="478.20" cy="414.00" r="1.55" fill="#fff" stroke="#000" stroke-width="1.6"/>
<circle cx="481.20" cy="413.50" r="1.55" fill="#fff" stroke="#000" stroke-width="1.6"/>
<circle cx="484.20" cy="414.50" r="1.55" fill="#fff" stroke="#000" stroke-width="1.6"/>
<circle cx="487.20" cy="414.50" r="1.55" fill="#fff" stroke="#000" stroke-width="1.6"/>
<circle cx="489.70" cy="414.00" r="1.55" fill="#fff" stroke="#000" stroke-width="1.6"/>
<circle cx="482.70" cy="417.50" r="1.55" fill="#fff" stroke="#000" stroke-width="1.6"/>
<circle cx="486.00" cy="417.00" r="1.55" fill="#fff" stroke="#000" stroke-width="1.6"/>
<circle cx="490.20" cy="416.50" r="1.55" fill="#fff" stroke="#000" stroke-width="1.6"/>
<line x1="484.20" y1="430.50" x2="484.20" y2="436.00" stroke="#3a3a3a" stroke-width="1.2"/>
<text x="484.20" y="446.80" font-size="10.8" text-anchor="middle" font-weight="normal" fill="#000" >C</text>
<rect x="503.90" y="409.90" width="16.00" height="20.60" fill="#F9B177" stroke="#000" stroke-width="2.2"/>
<line x1="511.50" y1="402.50" x2="511.50" y2="413.50" stroke="#2a2a2a" stroke-width="1.0"/>
<line x1="506.60" y1="402.50" x2="516.40" y2="402.50" stroke="#2a2a2a" stroke-width="1.0"/>
<line x1="506.60" y1="413.50" x2="516.40" y2="413.50" stroke="#2a2a2a" stroke-width="1.0"/>
<circle cx="510.20" cy="397.30" r="1.55" fill="#fff" stroke="#000" stroke-width="1.6"/>
<circle cx="513.50" cy="396.90" r="1.55" fill="#fff" stroke="#000" stroke-width="1.6"/>
<circle cx="510.20" cy="407.20" r="1.55" fill="#fff" stroke="#000" stroke-width="1.6"/>
<circle cx="504.40" cy="412.00" r="1.55" fill="#fff" stroke="#000" stroke-width="1.6"/>
<circle cx="507.90" cy="410.50" r="1.55" fill="#fff" stroke="#000" stroke-width="1.6"/>
<circle cx="511.40" cy="411.00" r="1.55" fill="#fff" stroke="#000" stroke-width="1.6"/>
<circle cx="514.90" cy="411.00" r="1.55" fill="#fff" stroke="#000" stroke-width="1.6"/>
<circle cx="517.90" cy="412.50" r="1.55" fill="#fff" stroke="#000" stroke-width="1.6"/>
<circle cx="519.90" cy="410.50" r="1.55" fill="#fff" stroke="#000" stroke-width="1.6"/>
<circle cx="508.90" cy="413.50" r="1.55" fill="#fff" stroke="#000" stroke-width="1.6"/>
<circle cx="514.90" cy="413.80" r="1.55" fill="#fff" stroke="#000" stroke-width="1.6"/>
<line x1="511.90" y1="430.50" x2="511.90" y2="436.00" stroke="#3a3a3a" stroke-width="1.2"/>
<text x="511.10" y="446.80" font-size="10.8" text-anchor="middle" font-weight="normal" fill="#000" >CDDP</text>
<rect x="531.60" y="405.00" width="16.00" height="25.50" fill="#F9B177" stroke="#000" stroke-width="2.2"/>
<line x1="539.50" y1="384.50" x2="539.50" y2="423.50" stroke="#2a2a2a" stroke-width="1.0"/>
<line x1="534.60" y1="384.50" x2="544.40" y2="384.50" stroke="#2a2a2a" stroke-width="1.0"/>
<line x1="534.60" y1="423.50" x2="544.40" y2="423.50" stroke="#2a2a2a" stroke-width="1.0"/>
<circle cx="539.60" cy="349.50" r="1.55" fill="#fff" stroke="#000" stroke-width="1.6"/>
<circle cx="541.30" cy="379.80" r="1.55" fill="#fff" stroke="#000" stroke-width="1.6"/>
<circle cx="533.10" cy="408.00" r="1.55" fill="#fff" stroke="#000" stroke-width="1.6"/>
<circle cx="537.60" cy="408.00" r="1.55" fill="#fff" stroke="#000" stroke-width="1.6"/>
<circle cx="541.60" cy="408.00" r="1.55" fill="#fff" stroke="#000" stroke-width="1.6"/>
<circle cx="546.10" cy="408.00" r="1.55" fill="#fff" stroke="#000" stroke-width="1.6"/>
<circle cx="534.60" cy="411.80" r="1.55" fill="#fff" stroke="#000" stroke-width="1.6"/>
<circle cx="539.60" cy="411.00" r="1.55" fill="#fff" stroke="#000" stroke-width="1.6"/>
<circle cx="544.60" cy="411.50" r="1.55" fill="#fff" stroke="#000" stroke-width="1.6"/>
<circle cx="535.10" cy="416.50" r="1.55" fill="#fff" stroke="#000" stroke-width="1.6"/>
<circle cx="544.60" cy="416.00" r="1.55" fill="#fff" stroke="#000" stroke-width="1.6"/>
<line x1="539.60" y1="430.50" x2="539.60" y2="436.00" stroke="#3a3a3a" stroke-width="1.2"/>
<text x="539.60" y="446.80" font-size="10.8" text-anchor="middle" font-weight="normal" fill="#000" >I5</text>
<rect x="559.30" y="412.90" width="16.00" height="17.60" fill="#F9B177" stroke="#000" stroke-width="2.2"/>
<line x1="567.50" y1="406.50" x2="567.50" y2="417.50" stroke="#2a2a2a" stroke-width="1.0"/>
<line x1="562.60" y1="406.50" x2="572.40" y2="406.50" stroke="#2a2a2a" stroke-width="1.0"/>
<line x1="562.60" y1="417.50" x2="572.40" y2="417.50" stroke="#2a2a2a" stroke-width="1.0"/>
<circle cx="560.30" cy="406.70" r="1.55" fill="#fff" stroke="#000" stroke-width="1.6"/>
<circle cx="563.80" cy="408.00" r="1.55" fill="#fff" stroke="#000" stroke-width="1.6"/>
<circle cx="568.80" cy="408.00" r="1.55" fill="#fff" stroke="#000" stroke-width="1.6"/>
<circle cx="574.80" cy="406.70" r="1.55" fill="#fff" stroke="#000" stroke-width="1.6"/>
<circle cx="575.80" cy="409.80" r="1.55" fill="#fff" stroke="#000" stroke-width="1.6"/>
<circle cx="572.30" cy="411.00" r="1.55" fill="#fff" stroke="#000" stroke-width="1.6"/>
<circle cx="563.80" cy="423.00" r="1.55" fill="#fff" stroke="#000" stroke-width="1.6"/>
<circle cx="571.30" cy="421.30" r="1.55" fill="#fff" stroke="#000" stroke-width="1.6"/>
<line x1="567.30" y1="430.50" x2="567.30" y2="436.00" stroke="#3a3a3a" stroke-width="1.2"/>
<text x="567.30" y="446.80" font-size="10.8" text-anchor="middle" font-weight="normal" fill="#000" >I6</text>
<text x="402.90" y="286.12" font-size="15" text-anchor="middle" style="stroke:#000;stroke-width:0.55px;stroke-opacity:1">***</text>
<text x="511.20" y="308.93" font-size="15" text-anchor="middle" style="stroke:#000;stroke-width:0.55px;stroke-opacity:1">*</text>
<polyline points="373.0,364.8 373.0,283.6 428.4,283.6 428.4,296.2" fill="none" stroke="#3a3a3a" stroke-width="1.15"/>
<line x1="400.90" y1="296.20" x2="456.60" y2="296.20" stroke="#3a3a3a" stroke-width="1.15"/>
<polyline points="482.2,372.3 482.2,306.4 539.3,306.4 539.3,314.5" fill="none" stroke="#3a3a3a" stroke-width="1.15"/>
<line x1="511.60" y1="314.50" x2="567.30" y2="314.50" stroke="#3a3a3a" stroke-width="1.15"/>
<text transform="translate(328.9,458.5) rotate(-90)" font-size="10.9" fill="#111" style="white-space:pre">Fold change - ΔCt <tspan font-weight="bold">MT-CYB</tspan>  (FPG-Buffer)</text>
<rect x="228.90" y="474.90" width="11.80" height="10.60" fill="#4A08F5" stroke="#111" stroke-width="1.6"/>
<text x="247.00" y="484.90" font-size="12.3" text-anchor="start" font-weight="normal" fill="#000" >PANC1</text>
<rect x="300.10" y="474.90" width="11.80" height="10.60" fill="#F9B177" stroke="#111" stroke-width="1.6"/>
<text x="317.30" y="484.90" font-size="12.3" text-anchor="start" font-weight="normal" fill="#000" >MKN45</text>
<line x1="54.50" y1="542.40" x2="54.50" y2="652.00" stroke="#111" stroke-width="1.5"/>
<line x1="53.80" y1="651.30" x2="186.70" y2="651.30" stroke="#111" stroke-width="1.5"/>
<line x1="51.70" y1="651.30" x2="54.50" y2="651.30" stroke="#111" stroke-width="1.3"/>
<text x="0" y="0" font-size="10" text-anchor="end" fill="#2a2a2a" transform="translate(51.10,654.80) scale(0.78,1)">0.0</text>
<line x1="51.70" y1="609.70" x2="54.50" y2="609.70" stroke="#111" stroke-width="1.3"/>
<text x="0" y="0" font-size="10" text-anchor="end" fill="#2a2a2a" transform="translate(51.10,613.20) scale(0.78,1)">0.5</text>
<line x1="51.70" y1="568.10" x2="54.50" y2="568.10" stroke="#111" stroke-width="1.3"/>
<text x="0" y="0" font-size="10" text-anchor="end" fill="#2a2a2a" transform="translate(51.10,571.60) scale(0.78,1)">1.0</text>
<rect x="60.80" y="565.80" width="20.20" height="85.50" fill="#FFFFFF" stroke="#111" stroke-width="1.7"/>
<line x1="70.50" y1="558.50" x2="70.50" y2="570.50" stroke="#1a1a1a" stroke-width="1.2"/>
<line x1="64.70" y1="558.50" x2="76.30" y2="558.50" stroke="#1a1a1a" stroke-width="1.2"/>
<line x1="64.70" y1="570.50" x2="76.30" y2="570.50" stroke="#1a1a1a" stroke-width="1.2"/>
<circle cx="64.70" cy="569.90" r="2.15" fill="#000"/>
<circle cx="70.90" cy="558.60" r="2.15" fill="#000"/>
<circle cx="77.90" cy="567.30" r="2.15" fill="#000"/>
<line x1="70.90" y1="651.30" x2="70.90" y2="654.90" stroke="#111" stroke-width="1.3"/>
<text x="0" y="0" font-size="10" text-anchor="middle" fill="#222" transform="translate(70.90,666.00) scale(0.87,1)">C</text>
<rect x="93.80" y="582.40" width="20.20" height="68.90" fill="#CFD9D5" stroke="#111" stroke-width="1.7"/>
<line x1="103.50" y1="559.50" x2="103.50" y2="602.50" stroke="#1a1a1a" stroke-width="1.2"/>
<line x1="97.70" y1="559.50" x2="109.30" y2="559.50" stroke="#1a1a1a" stroke-width="1.2"/>
<line x1="97.70" y1="602.50" x2="109.30" y2="602.50" stroke="#1a1a1a" stroke-width="1.2"/>
<circle cx="103.90" cy="558.60" r="2.15" fill="#000"/>
<circle cx="103.90" cy="585.10" r="2.15" fill="#000"/>
<circle cx="103.90" cy="600.60" r="2.15" fill="#000"/>
<line x1="103.90" y1="651.30" x2="103.90" y2="654.90" stroke="#111" stroke-width="1.3"/>
<text x="0" y="0" font-size="10" text-anchor="middle" fill="#222" transform="translate(103.90,666.00) scale(0.87,1)">CDDP</text>
<rect x="126.60" y="596.20" width="20.20" height="55.10" fill="#C3E7F8" stroke="#111" stroke-width="1.7"/>
<line x1="136.50" y1="568.50" x2="136.50" y2="622.50" stroke="#1a1a1a" stroke-width="1.2"/>
<line x1="130.70" y1="568.50" x2="142.30" y2="568.50" stroke="#1a1a1a" stroke-width="1.2"/>
<line x1="130.70" y1="622.50" x2="142.30" y2="622.50" stroke="#1a1a1a" stroke-width="1.2"/>
<circle cx="129.50" cy="578.30" r="2.15" fill="#000"/>
<circle cx="136.70" cy="580.90" r="2.15" fill="#000"/>
<circle cx="136.70" cy="626.30" r="2.15" fill="#000"/>
<line x1="136.70" y1="651.30" x2="136.70" y2="654.90" stroke="#111" stroke-width="1.3"/>
<text x="0" y="0" font-size="10" text-anchor="middle" fill="#222" transform="translate(136.70,666.00) scale(0.87,1)">I5</text>
<text x="0" y="0" font-size="14" text-anchor="middle" fill="#111" style="stroke:#111;stroke-width:0.45px;stroke-opacity:1" transform="translate(136.70,564.91) scale(0.87,1)">*</text>
<rect x="159.30" y="611.40" width="20.20" height="39.90" fill="#1E0FEE" stroke="#111" stroke-width="1.7"/>
<line x1="169.50" y1="574.50" x2="169.50" y2="645.50" stroke="#1a1a1a" stroke-width="1.2"/>
<line x1="163.70" y1="574.50" x2="175.30" y2="574.50" stroke="#1a1a1a" stroke-width="1.2"/>
<line x1="163.70" y1="645.50" x2="175.30" y2="645.50" stroke="#1a1a1a" stroke-width="1.2"/>
<circle cx="169.40" cy="586.40" r="2.15" fill="#000"/>
<circle cx="169.40" cy="593.20" r="2.15" fill="#000"/>
<circle cx="169.40" cy="650.30" r="2.15" fill="#000"/>
<line x1="169.40" y1="651.30" x2="169.40" y2="654.90" stroke="#111" stroke-width="1.3"/>
<text x="0" y="0" font-size="10" text-anchor="middle" fill="#222" transform="translate(169.40,666.00) scale(0.87,1)">I6</text>
<text x="0" y="0" font-size="14" text-anchor="middle" fill="#111" style="stroke:#111;stroke-width:0.45px;stroke-opacity:1" transform="translate(169.40,564.91) scale(0.87,1)">*</text>
<text x="114.40" y="540.60" font-size="17.7" text-anchor="middle" font-weight="normal" fill="#000" >AGS</text>
<line x1="232.90" y1="554.30" x2="232.90" y2="651.10" stroke="#111" stroke-width="1.5"/>
<line x1="232.20" y1="650.40" x2="384.90" y2="650.40" stroke="#111" stroke-width="1.5"/>
<line x1="230.10" y1="650.40" x2="232.90" y2="650.40" stroke="#111" stroke-width="1.3"/>
<text x="0" y="0" font-size="10" text-anchor="end" fill="#2a2a2a" transform="translate(229.50,653.90) scale(0.9,1)">0.0</text>
<line x1="230.10" y1="613.75" x2="232.90" y2="613.75" stroke="#111" stroke-width="1.3"/>
<text x="0" y="0" font-size="10" text-anchor="end" fill="#2a2a2a" transform="translate(229.50,617.25) scale(0.9,1)">0.5</text>
<line x1="230.10" y1="577.10" x2="232.90" y2="577.10" stroke="#111" stroke-width="1.3"/>
<text x="0" y="0" font-size="10" text-anchor="end" fill="#2a2a2a" transform="translate(229.50,580.60) scale(0.9,1)">1.0</text>
<rect x="239.75" y="580.30" width="23.30" height="70.10" fill="#FFFFFF" stroke="#111" stroke-width="1.7"/>
<line x1="251.50" y1="574.50" x2="251.50" y2="582.50" stroke="#1a1a1a" stroke-width="1.2"/>
<line x1="245.10" y1="574.50" x2="257.90" y2="574.50" stroke="#1a1a1a" stroke-width="1.2"/>
<line x1="245.10" y1="582.50" x2="257.90" y2="582.50" stroke="#1a1a1a" stroke-width="1.2"/>
<circle cx="243.40" cy="582.00" r="2.15" fill="#000"/>
<circle cx="251.60" cy="574.80" r="2.15" fill="#000"/>
<circle cx="259.70" cy="579.30" r="2.15" fill="#000"/>
<line x1="251.40" y1="650.40" x2="251.40" y2="654.00" stroke="#111" stroke-width="1.3"/>
<text x="0" y="0" font-size="10" text-anchor="middle" fill="#222" transform="translate(251.40,663.90) scale(1.0,1)">C</text>
<rect x="277.75" y="596.00" width="23.30" height="54.40" fill="#CFD9D5" stroke="#111" stroke-width="1.7"/>
<line x1="289.50" y1="594.50" x2="289.50" y2="595.50" stroke="#1a1a1a" stroke-width="1.2"/>
<line x1="283.10" y1="594.50" x2="295.90" y2="594.50" stroke="#1a1a1a" stroke-width="1.2"/>
<line x1="283.10" y1="595.50" x2="295.90" y2="595.50" stroke="#1a1a1a" stroke-width="1.2"/>
<circle cx="281.20" cy="594.70" r="2.15" fill="#000"/>
<circle cx="289.40" cy="593.60" r="2.15" fill="#000"/>
<circle cx="297.60" cy="594.70" r="2.15" fill="#000"/>
<line x1="289.40" y1="650.40" x2="289.40" y2="654.00" stroke="#111" stroke-width="1.3"/>
<text x="0" y="0" font-size="10" text-anchor="middle" fill="#222" transform="translate(289.40,663.90) scale(1.0,1)">CDDP</text>
<text x="0" y="0" font-size="14" text-anchor="middle" fill="#111" style="stroke:#111;stroke-width:0.45px;stroke-opacity:1" transform="translate(289.40,593.61) scale(1.0,1)">*</text>
<rect x="315.45" y="619.00" width="23.30" height="31.40" fill="#C3E7F8" stroke="#111" stroke-width="1.7"/>
<line x1="327.50" y1="615.50" x2="327.50" y2="621.50" stroke="#1a1a1a" stroke-width="1.2"/>
<line x1="321.10" y1="615.50" x2="333.90" y2="615.50" stroke="#1a1a1a" stroke-width="1.2"/>
<line x1="321.10" y1="621.50" x2="333.90" y2="621.50" stroke="#1a1a1a" stroke-width="1.2"/>
<circle cx="318.50" cy="620.40" r="2.15" fill="#000"/>
<circle cx="327.20" cy="616.30" r="2.15" fill="#000"/>
<circle cx="334.80" cy="616.90" r="2.15" fill="#000"/>
<line x1="327.10" y1="650.40" x2="327.10" y2="654.00" stroke="#111" stroke-width="1.3"/>
<text x="0" y="0" font-size="10" text-anchor="middle" fill="#222" transform="translate(327.10,663.90) scale(1.0,1)">I5</text>
<text x="0" y="0" font-size="14" text-anchor="middle" fill="#111" style="stroke:#111;stroke-width:0.45px;stroke-opacity:1" transform="translate(327.10,614.01) scale(1.0,1)">**</text>
<rect x="353.35" y="633.40" width="23.30" height="17.00" fill="#1E0FEE" stroke="#111" stroke-width="1.7"/>
<line x1="365.50" y1="629.50" x2="365.50" y2="634.50" stroke="#1a1a1a" stroke-width="1.2"/>
<line x1="359.10" y1="629.50" x2="371.90" y2="629.50" stroke="#1a1a1a" stroke-width="1.2"/>
<line x1="359.10" y1="634.50" x2="371.90" y2="634.50" stroke="#1a1a1a" stroke-width="1.2"/>
<circle cx="356.50" cy="634.90" r="2.15" fill="#000"/>
<circle cx="365.30" cy="631.30" r="2.15" fill="#000"/>
<circle cx="372.90" cy="631.90" r="2.15" fill="#000"/>
<line x1="365.00" y1="650.40" x2="365.00" y2="654.00" stroke="#111" stroke-width="1.3"/>
<text x="0" y="0" font-size="10" text-anchor="middle" fill="#222" transform="translate(365.00,663.90) scale(1.0,1)">I6</text>
<text x="0" y="0" font-size="14" text-anchor="middle" fill="#111" style="stroke:#111;stroke-width:0.45px;stroke-opacity:1" transform="translate(365.00,628.21) scale(1.0,1)">**</text>
<text x="316.40" y="541.20" font-size="17.7" text-anchor="middle" font-weight="normal" fill="#000" >MKN45</text>
<line x1="433.70" y1="542.40" x2="433.70" y2="651.90" stroke="#111" stroke-width="1.5"/>
<line x1="433.00" y1="651.20" x2="586.30" y2="651.20" stroke="#111" stroke-width="1.5"/>
<line x1="430.90" y1="651.20" x2="433.70" y2="651.20" stroke="#111" stroke-width="1.3"/>
<text x="0" y="0" font-size="10" text-anchor="end" fill="#2a2a2a" transform="translate(430.30,654.70) scale(0.9,1)">0.0</text>
<line x1="430.90" y1="609.80" x2="433.70" y2="609.80" stroke="#111" stroke-width="1.3"/>
<text x="0" y="0" font-size="10" text-anchor="end" fill="#2a2a2a" transform="translate(430.30,613.30) scale(0.9,1)">0.5</text>
<line x1="430.90" y1="568.40" x2="433.70" y2="568.40" stroke="#111" stroke-width="1.3"/>
<text x="0" y="0" font-size="10" text-anchor="end" fill="#2a2a2a" transform="translate(430.30,571.90) scale(0.9,1)">1.0</text>
<rect x="440.85" y="573.20" width="23.30" height="78.00" fill="#FFFFFF" stroke="#111" stroke-width="1.7"/>
<line x1="452.50" y1="565.50" x2="452.50" y2="579.50" stroke="#1a1a1a" stroke-width="1.2"/>
<line x1="446.10" y1="565.50" x2="458.90" y2="565.50" stroke="#1a1a1a" stroke-width="1.2"/>
<line x1="446.10" y1="579.50" x2="458.90" y2="579.50" stroke="#1a1a1a" stroke-width="1.2"/>
<circle cx="452.20" cy="569.70" r="2.15" fill="#000"/>
<circle cx="460.80" cy="566.20" r="2.15" fill="#000"/>
<circle cx="452.20" cy="579.60" r="2.15" fill="#000"/>
<line x1="452.50" y1="651.20" x2="452.50" y2="654.80" stroke="#111" stroke-width="1.3"/>
<text x="0" y="0" font-size="10" text-anchor="middle" fill="#222" transform="translate(452.50,665.10) scale(1.0,1)">C</text>
<rect x="478.55" y="608.00" width="23.30" height="43.20" fill="#CFD9D5" stroke="#111" stroke-width="1.7"/>
<line x1="490.50" y1="602.50" x2="490.50" y2="611.50" stroke="#1a1a1a" stroke-width="1.2"/>
<line x1="484.10" y1="602.50" x2="496.90" y2="602.50" stroke="#1a1a1a" stroke-width="1.2"/>
<line x1="484.10" y1="611.50" x2="496.90" y2="611.50" stroke="#1a1a1a" stroke-width="1.2"/>
<circle cx="490.20" cy="605.30" r="2.15" fill="#000"/>
<circle cx="498.20" cy="603.70" r="2.15" fill="#000"/>
<circle cx="490.20" cy="611.70" r="2.15" fill="#000"/>
<line x1="490.20" y1="651.20" x2="490.20" y2="654.80" stroke="#111" stroke-width="1.3"/>
<text x="0" y="0" font-size="10" text-anchor="middle" fill="#222" transform="translate(490.20,665.10) scale(1.0,1)">CDDP</text>
<text x="0" y="0" font-size="14" text-anchor="middle" fill="#111" style="stroke:#111;stroke-width:0.45px;stroke-opacity:1" transform="translate(490.20,595.11) scale(1.0,1)">*</text>
<rect x="516.25" y="610.60" width="23.30" height="40.60" fill="#C3E7F8" stroke="#111" stroke-width="1.7"/>
<line x1="527.50" y1="605.50" x2="527.50" y2="612.50" stroke="#1a1a1a" stroke-width="1.2"/>
<line x1="521.10" y1="605.50" x2="533.90" y2="605.50" stroke="#1a1a1a" stroke-width="1.2"/>
<line x1="521.10" y1="612.50" x2="533.90" y2="612.50" stroke="#1a1a1a" stroke-width="1.2"/>
<circle cx="520.10" cy="612.50" r="2.15" fill="#000"/>
<circle cx="528.20" cy="605.30" r="2.15" fill="#000"/>
<circle cx="536.40" cy="609.80" r="2.15" fill="#000"/>
<line x1="527.90" y1="651.20" x2="527.90" y2="654.80" stroke="#111" stroke-width="1.3"/>
<text x="0" y="0" font-size="10" text-anchor="middle" fill="#222" transform="translate(527.90,665.10) scale(1.0,1)">I5</text>
<text x="0" y="0" font-size="14" text-anchor="middle" fill="#111" style="stroke:#111;stroke-width:0.45px;stroke-opacity:1" transform="translate(527.90,595.11) scale(1.0,1)">**</text>
<rect x="554.15" y="612.50" width="23.30" height="38.70" fill="#1E0FEE" stroke="#111" stroke-width="1.7"/>
<line x1="565.50" y1="601.50" x2="565.50" y2="620.50" stroke="#1a1a1a" stroke-width="1.2"/>
<line x1="559.10" y1="601.50" x2="571.90" y2="601.50" stroke="#1a1a1a" stroke-width="1.2"/>
<line x1="559.10" y1="620.50" x2="571.90" y2="620.50" stroke="#1a1a1a" stroke-width="1.2"/>
<circle cx="565.90" cy="600.50" r="2.15" fill="#000"/>
<circle cx="557.80" cy="618.40" r="2.15" fill="#000"/>
<circle cx="574.40" cy="614.40" r="2.15" fill="#000"/>
<line x1="565.80" y1="651.20" x2="565.80" y2="654.80" stroke="#111" stroke-width="1.3"/>
<text x="0" y="0" font-size="10" text-anchor="middle" fill="#222" transform="translate(565.80,665.10) scale(1.0,1)">I6</text>
<text x="0" y="0" font-size="14" text-anchor="middle" fill="#111" style="stroke:#111;stroke-width:0.45px;stroke-opacity:1" transform="translate(565.80,595.11) scale(1.0,1)">*</text>
<text x="516.20" y="540.80" font-size="16.9" text-anchor="middle" font-weight="normal" fill="#000" >PANC1</text>
<rect x="212.30" y="675.20" width="8.90" height="7.40" fill="#FFFFFF" stroke="#111" stroke-width="1.6"/>
<text x="226.40" y="683.10" font-size="11.6" text-anchor="start" font-weight="normal" fill="#000" >C: Control</text>
<rect x="285.40" y="675.20" width="8.90" height="7.40" fill="#CFD9D5" stroke="#111" stroke-width="1.6"/>
<text x="300.60" y="683.10" font-size="11.6" text-anchor="start" font-weight="normal" fill="#000" >CDDP</text>
<rect x="338.10" y="675.20" width="8.90" height="7.40" fill="#C3E7F8" stroke="#111" stroke-width="1.6"/>
<text x="351.70" y="683.10" font-size="11.6" text-anchor="start" font-weight="normal" fill="#000" >I5</text>
<rect x="374.90" y="675.20" width="8.90" height="7.40" fill="#1E0FEE" stroke="#111" stroke-width="1.6"/>
<text x="389.10" y="683.10" font-size="11.6" text-anchor="start" font-weight="normal" fill="#000" >I6</text>
<text transform="translate(17.6,633.7) rotate(-90)" font-size="13" fill="#111">Fold Change</text>
<text transform="translate(30.2,650.6) rotate(-90)" font-size="13.5" font-weight="bold" fill="#111">(ΔΨm/Mit. Mass)</text>
<text x="-1.10" y="524.50" font-size="19.5" text-anchor="start" font-weight="bold" fill="#000" >b</text>
</svg></body></html>
